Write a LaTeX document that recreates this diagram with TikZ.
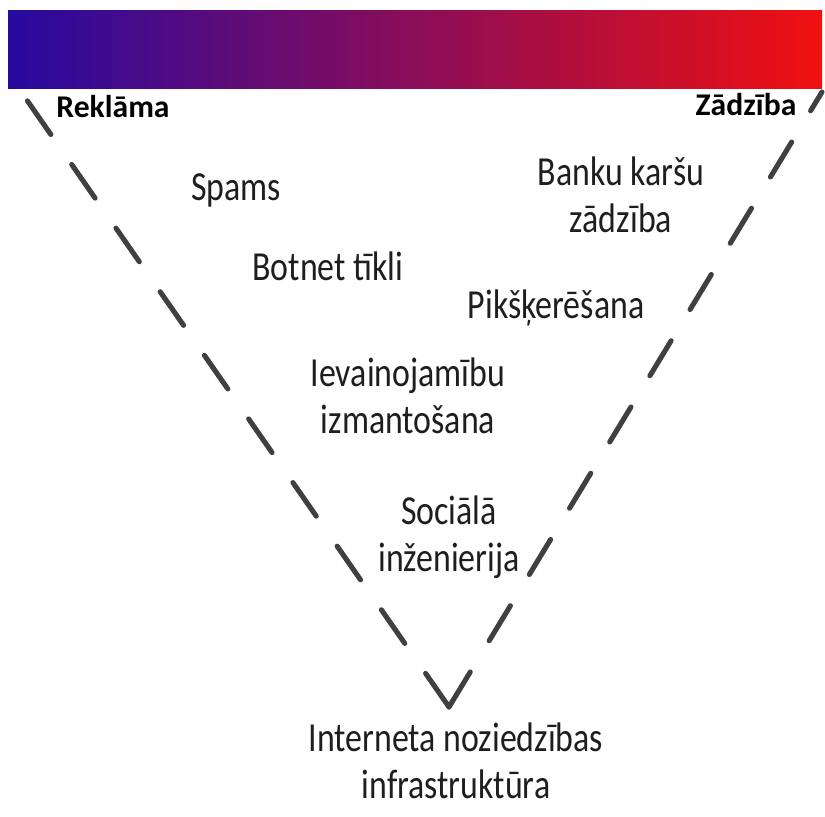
\documentclass[tikz,border=0pt]{standalone}
\usepackage{fontspec}
\setmainfont{Carlito}
\newfontfamily\narrowfont{Carlito}[FakeStretch=0.82]
\usetikzlibrary{positioning}

\definecolor{barblue}{RGB}{38,10,160}
\definecolor{barred}{RGB}{240,16,16}
\definecolor{linegray}{RGB}{64,64,64}
\definecolor{textgray}{RGB}{30,30,30}

\begin{document}
\begin{tikzpicture}[x=0.02cm,y=-0.02cm]
            \useasboundingbox (0,0) rectangle (825,816);
            \shade [left color=barblue,right color=barred] (8,10) rectangle (822,88);

            \coordinate (ltop) at (22,93);
            \coordinate (apex) at (449,707);
            \coordinate (rtop) at (822,92);

            \begin{scope}[every node/.style={anchor=base,inner sep=0pt,
                font=\bfseries\fontsize{18}{21}\selectfont}]
                \node (reklama) at (113,117) {Reklāma};
                \node (zadziba) at (746,115) {Zādzība};
            \end{scope};

            \begin{scope}[every node/.style={anchor=base,inner sep=0pt,align=center,text=textgray,
                font=\narrowfont\fontsize{23.5}{26.4}\selectfont}]
                \node (spams) at (236,200) {Spams};
                \node (botnet) at (328,280) {Botnet tīkli};
                \node (banku) at (621,232) {Banku karšu\\zādzība};
                \node (pikskeresana) at (556,318) {Pikšķerēšana};
                \node (ievainojamibu) at (408,433) {Ievainojamību\\izmantošana};
                \node (sociala) at (449,571) {Sociālā\\inženierija};
                \node (interneta) at (456,798) {Interneta noziedzības\\infrastruktūra};
            \end{scope};

            \begin{scope}[every edge/.style={draw=linegray,line width=2.9pt,line cap=round,
                dash pattern=on 23.3pt off 20.8pt}]
                \path [-] (apex) edge (ltop);
                \path [-] (apex) edge (rtop);
            \end{scope}
\end{tikzpicture}
\end{document}
